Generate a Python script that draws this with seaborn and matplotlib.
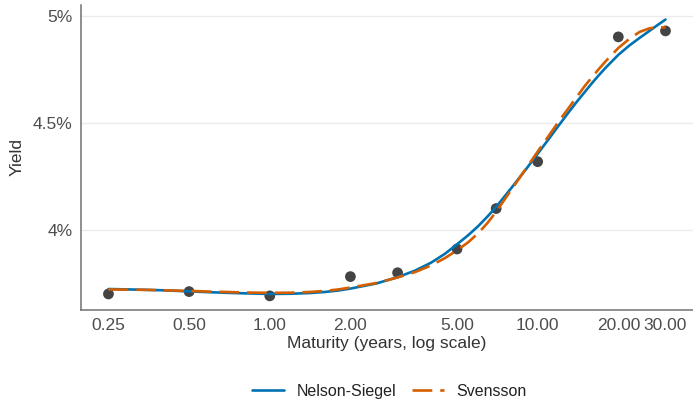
import numpy as np
import pandas as pd
import matplotlib
matplotlib.use("Agg")
import matplotlib.pyplot as plt
import seaborn as sns
from matplotlib.ticker import FixedLocator, FixedFormatter

# observed yields (percent)
obs_maturity = [0.25, 0.5, 1, 2, 3, 5, 7, 10, 20, 30]
obs_yield = [3.701, 3.712, 3.692, 3.782, 3.800, 3.911, 4.100, 4.319, 4.902, 4.930]

# fitted curves (percent)
curve_maturity = [0.25, 0.3, 0.35, 0.4, 0.5, 0.6, 0.7, 0.8, 1, 1.2, 1.4, 1.6, 1.8, 2, 2.5, 3,
                  3.5, 4, 4.5, 5, 5.5, 6, 6.5, 7, 8, 9, 10, 11, 12, 13, 14, 15, 16, 17, 18,
                  20, 22, 24, 26, 28, 30]
ns_yield = [3.724, 3.722, 3.720, 3.718, 3.713, 3.709, 3.706, 3.704, 3.701, 3.702, 3.705,
            3.710, 3.717, 3.726, 3.750, 3.779, 3.811, 3.847, 3.888, 3.933, 3.975, 4.018,
            4.063, 4.108, 4.198, 4.280, 4.356, 4.425, 4.489, 4.547, 4.599, 4.645, 4.688,
            4.726, 4.760, 4.818, 4.862, 4.897, 4.928, 4.957, 4.983]
sv_yield = [3.722, 3.721, 3.720, 3.718, 3.715, 3.712, 3.710, 3.708, 3.706, 3.707, 3.710,
            3.715, 3.722, 3.731, 3.752, 3.778, 3.804, 3.834, 3.868, 3.905, 3.942, 3.985,
            4.033, 4.085, 4.190, 4.283, 4.366, 4.440, 4.508, 4.567, 4.622, 4.673, 4.716,
            4.755, 4.790, 4.850, 4.893, 4.925, 4.941, 4.948, 4.946]

tick_vals = [0.25, 0.5, 1, 2, 5, 10, 20, 30]
tick_labels = ["0.25", "0.50", "1.00", "2.00", "5.00", "10.00", "20.00", "30.00"]

curves = pd.DataFrame({
    "maturity": curve_maturity * 2,
    "yield": ns_yield + sv_yield,
    "model": ["Nelson-Siegel"] * len(curve_maturity) + ["Svensson"] * len(curve_maturity),
})
points = pd.DataFrame({"maturity": obs_maturity, "yield": obs_yield})

sns.set_style("white")
plt.rcParams["font.family"] = ["Liberation Sans", "DejaVu Sans"]

fig = plt.figure(figsize=(6.93, 4.0), dpi=100)
ax = fig.add_axes([0.1165, 0.225, 0.8835, 0.7625])

blue, orange = "#0072B2", "#D55E00"
sv_dash = (7.5, 3.0)
sns.scatterplot(data=points, x="maturity", y="yield", ax=ax, color="#444444",
                s=60, edgecolor="none", zorder=2)
sns.lineplot(data=curves, x="maturity", y="yield", hue="model", style="model",
             palette={"Nelson-Siegel": blue, "Svensson": orange},
             dashes={"Nelson-Siegel": "", "Svensson": sv_dash},
             linewidth=1.9, ax=ax, zorder=3, legend=False)

ax.set_xscale("log")
ax.set_xlim(0.197, 38.0)
ax.set_ylim(3.626, 5.051)
ax.xaxis.set_major_locator(FixedLocator(tick_vals))
ax.xaxis.set_major_formatter(FixedFormatter(tick_labels))
ax.xaxis.set_minor_locator(FixedLocator([]))
ax.set_yticks([4, 4.5, 5])
ax.set_yticklabels(["4%", "4.5%", "5%"])

ax.grid(axis="y", color="#ebebeb", linewidth=1.0)
ax.set_axisbelow(True)
for side in ["top", "right"]:
    ax.spines[side].set_visible(False)
for side in ["left", "bottom"]:
    ax.spines[side].set_color("#707070")
    ax.spines[side].set_linewidth(1.1)
ax.tick_params(axis="both", which="major", length=3.0, width=0.9, color="#707070",
               labelsize=12.5, labelcolor="#4d4d4d", pad=3, direction="out")
ax.tick_params(axis="both", which="minor", length=0)
ax.set_xlabel("Maturity (years, log scale)", fontsize=12.5, color="#333333", labelpad=2)
ax.set_ylabel("Yield", fontsize=12.5, color="#333333", labelpad=6)

handles = [
    plt.Line2D([], [], color=blue, linewidth=1.9),
    plt.Line2D([], [], color=orange, linewidth=1.9, dashes=sv_dash),
]
fig.legend(handles, ["Nelson-Siegel", "Svensson"], loc="center", bbox_to_anchor=(0.562, 0.022),
           ncol=2, frameon=False, fontsize=11.5, handlelength=2.0, handletextpad=0.8,
           columnspacing=0.95, labelcolor="#222222")

fig.savefig("out.png", dpi=100)
